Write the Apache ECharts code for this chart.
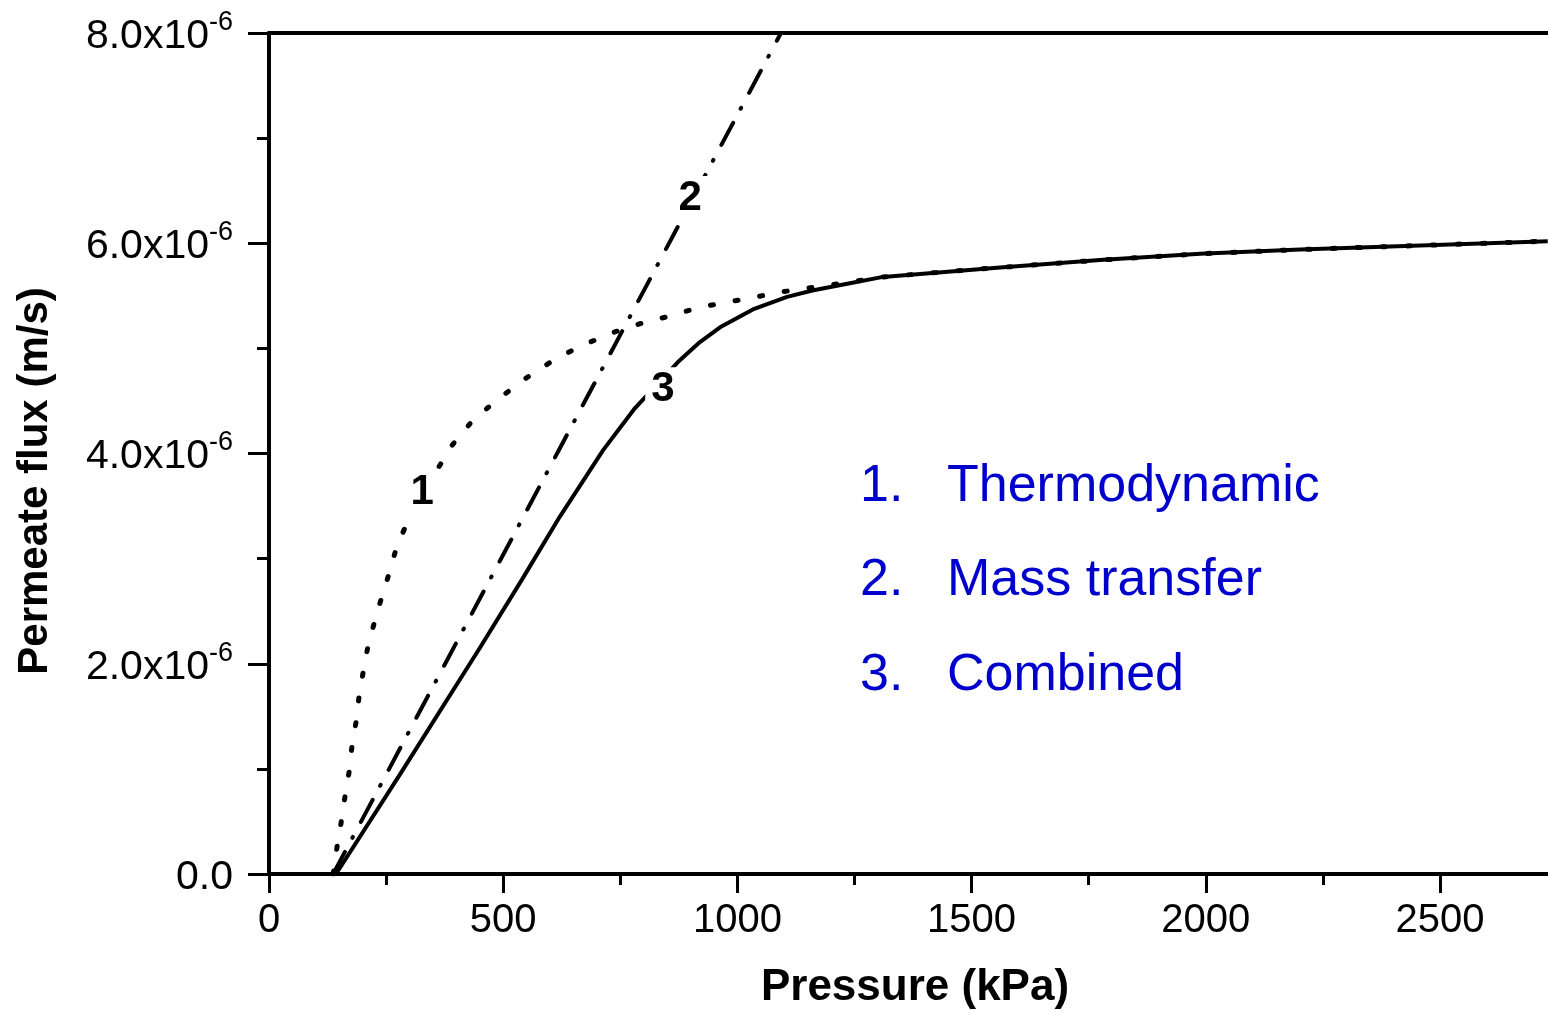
<!DOCTYPE html>
<html>
<head>
<meta charset="utf-8">
<script src="https://cdn.jsdelivr.net/npm/echarts@6/dist/echarts.min.js"></script>
<style>
html,body{margin:0;padding:0;background:#fff;}
#c{width:1548px;height:1014px;}
</style>
</head>
<body>
<div id="c"></div>
<script>
// Pressure in kPa; flux values in units of 1e-6 m/s
const thermoP    = [137, 145, 154, 162, 171, 177, 186, 192, 201, 211, 226, 241, 258, 273, 297, 339, 391, 436, 493, 553, 615, 675, 734, 796, 858, 918, 980, 1040, 1099, 1161, 1223, 1311, 1561, 1774, 1988, 2201, 2730];
const thermoFlux = [0, 0.25, 0.49, 0.73, 0.97, 1.21, 1.45, 1.68, 1.92, 2.16, 2.41, 2.64, 2.88, 3.12, 3.36, 3.70, 4.08, 4.32, 4.53, 4.73, 4.91, 5.04, 5.15, 5.24, 5.31, 5.39, 5.44, 5.49, 5.54, 5.58, 5.62, 5.68, 5.77, 5.84, 5.90, 5.94, 6.02];
const massP      = [137, 621, 1093];
const massFlux   = [0, 4.05, 8.0];
const combP      = [143, 280, 450, 540, 621, 713, 781, 873, 920, 963, 1033, 1106, 1160, 1240, 1311, 1561, 1774, 1988, 2201, 2730];
const combFlux   = [0, 0.95, 2.15, 2.80, 3.40, 4.03, 4.43, 4.87, 5.06, 5.20, 5.37, 5.49, 5.55, 5.62, 5.68, 5.77, 5.84, 5.90, 5.94, 6.02];
const curveLabels = [
  {text: '1', p: 327, f: 3.63},
  {text: '2', p: 899, f: 6.43},
  {text: '3', p: 841, f: 4.61}
];
const legendNums  = ['1.', '2.', '3.'];
const legendNames = ['Thermodynamic', 'Mass transfer', 'Combined'];
const xTitle = 'Pressure (kPa)';
const yTitle = 'Permeate flux (m/s)';

const FONT = '"Liberation Sans", Arial, Helvetica, sans-serif';
const zip = (a, b) => a.map((v, i) => [v, b[i]]);

const chart = echarts.init(document.getElementById('c'), null, {renderer: 'canvas'});

const legendTops = [487, 581, 676];
const graphics = [];
legendNums.forEach((n, i) => {
  graphics.push({type: 'text', x: 860, y: legendTops[i], style: {text: n, font: '52px ' + FONT, fill: '#0000cc', textVerticalAlign: 'middle'}});
  graphics.push({type: 'text', x: 947, y: legendTops[i], style: {text: legendNames[i], font: '52px ' + FONT, fill: '#0000cc', textVerticalAlign: 'middle'}});
});
graphics.push({type: 'text', x: 915, y: 988, style: {text: xTitle, font: 'bold 44px ' + FONT, fill: '#000', textAlign: 'center', textVerticalAlign: 'middle'}});
graphics.push({type: 'text', x: 35, y: 481, rotation: Math.PI / 2, style: {text: yTitle, font: 'bold 42px ' + FONT, fill: '#000', textAlign: 'center', textVerticalAlign: 'middle'}});

const option = {
  animation: false,
  backgroundColor: '#fff',
  grid: {left: 269, top: 33, width: 1405.2, height: 841, containLabel: false, outerBoundsMode: 'none'},
  xAxis: [{
    type: 'value', min: 0, max: 3000, interval: 500,
    axisLine: {show: true, lineStyle: {color: '#000', width: 4}},
    axisTick: {show: true, inside: false, length: 19, lineStyle: {color: '#000', width: 3}},
    minorTick: {show: true, splitNumber: 2, length: 11, lineStyle: {color: '#000', width: 3}},
    axisLabel: {show: true, margin: 27, fontFamily: FONT, fontSize: 40, color: '#000', showMaxLabel: false,
                formatter: v => String(v)},
    splitLine: {show: false}, minorSplitLine: {show: false}
  }, {
    type: 'value', position: 'top', min: 0, max: 3000,
    axisLine: {show: true, onZero: false, lineStyle: {color: '#000', width: 4}},
    axisTick: {show: false}, axisLabel: {show: false}, splitLine: {show: false}
  }],
  yAxis: {
    type: 'value', min: 0, max: 8, interval: 2,
    axisLine: {show: true, lineStyle: {color: '#000', width: 4}},
    axisTick: {show: true, inside: false, length: 21, lineStyle: {color: '#000', width: 3}},
    minorTick: {show: true, splitNumber: 2, length: 12, lineStyle: {color: '#000', width: 3}},
    axisLabel: {
      show: true, margin: 36, fontFamily: FONT, fontSize: 41, color: '#000',
      formatter: v => v === 0 ? '{m|0.0}' : '{m|' + v.toFixed(1) + 'x10}{s|-6}',
      rich: {
        m: {fontFamily: FONT, fontSize: 41, color: '#000', padding: [7, 0, 0, 0]},
        s: {fontFamily: FONT, fontSize: 27, color: '#000', verticalAlign: 'top'}
      }
    },
    splitLine: {show: false}, minorSplitLine: {show: false}
  },
  graphic: graphics,
  series: [
    {
      name: 'Thermodynamic', type: 'line', data: zip(thermoP, thermoFlux), showSymbol: false, smooth: false,
      lineStyle: {color: '#000', width: 5, type: [3, 22], cap: 'round'}, z: 3, clip: true
    },
    {
      name: 'Mass transfer', type: 'line', data: zip(massP, massFlux), showSymbol: false,
      lineStyle: {color: '#000', width: 4, type: [25, 16, 1, 17], cap: 'round'}, z: 3, clip: true
    },
    {
      name: 'Combined', type: 'line', data: zip(combP, combFlux), showSymbol: false,
      lineStyle: {color: '#000', width: 4, type: 'solid'}, z: 4, clip: true
    },
    {
      name: 'labels', type: 'scatter', symbolSize: 1, itemStyle: {color: '#fff', opacity: 1}, z: 10,
      data: curveLabels.map(l => ({value: [l.p, l.f], label: {formatter: l.text}})),
      label: {show: true, position: 'inside', fontFamily: FONT, fontWeight: 'bold', fontSize: 42, color: '#000',
              opacity: 1, backgroundColor: '#fff', padding: [2, 6, 0, 6]}
    }
  ]
};
chart.setOption(option);
</script>
</body>
</html>
